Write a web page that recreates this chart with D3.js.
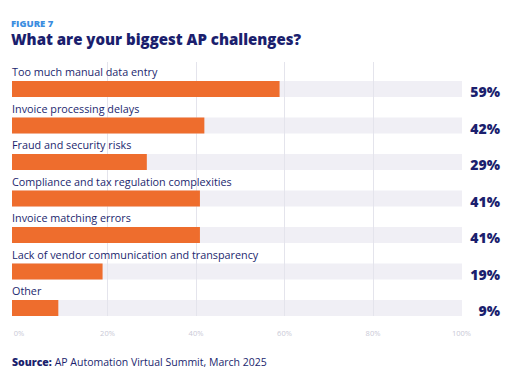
<!DOCTYPE html>
<html>
<head>
<meta charset="utf-8">
<script src="https://cdn.jsdelivr.net/npm/d3@7"></script>
<style>
  html, body { margin: 0; padding: 0; background: #fff; }
  svg { display: block; }
  text { font-family: "Open Sans", "Noto Sans", sans-serif; }
</style>
</head>
<body>
<svg id="chart" width="512" height="385"></svg>
<script>
const categories = [
  "Too much manual data entry",
  "Invoice processing delays",
  "Fraud and security risks",
  "Compliance and tax regulation complexities",
  "Invoice matching errors",
  "Lack of vendor communication and transparency",
  "Other"
];
const values = [59, 42, 29, 41, 41, 19, 9];
const tickValues = [0, 20, 40, 60, 80, 100];
const gridValues = [20, 40, 60, 80];

const navy = "#1b1f6e";
const orange = "#ee6d2d";
const track = "#f0eff5";
const grid = "#e4e4ec";

const svg = d3.select("#chart");

svg.append("text").attr("x", 11).attr("y", 26.5)
  .attr("font-size", 9.5).attr("font-weight", 800).attr("fill", "#3b8de0")
  .text("FIGURE 7");
svg.append("text").attr("x", 11).attr("y", 45)
  .attr("font-size", 15).attr("font-weight", 800).attr("fill", navy)
  .text("What are your biggest AP challenges?");

const x = d3.scaleLinear().domain([0, 100]).range([18.5, 461]);
const y = d3.scaleBand().domain(categories).range([63.5, 319]).paddingInner(0);
const barLeft = 12, barOffset = 17.5, barH = 16;
const data = categories.map((c, i) => ({ c, v: values[i] }));

// tracks
svg.append("g").selectAll("rect").data(data).join("rect")
  .attr("x", barLeft).attr("y", d => y(d.c) + barOffset)
  .attr("width", x(100) + 1 - barLeft).attr("height", barH)
  .attr("fill", track);

// gridlines
svg.append("g").selectAll("line").data(gridValues).join("line")
  .attr("x1", d => Math.round(x(d)) + 0.5).attr("x2", d => Math.round(x(d)) + 0.5)
  .attr("y1", 62).attr("y2", y(categories[categories.length - 1]) + barOffset + barH)
  .attr("stroke", grid).attr("stroke-width", 1);

// bars
svg.append("g").selectAll("rect").data(data).join("rect")
  .attr("x", barLeft).attr("y", d => y(d.c) + barOffset)
  .attr("width", d => x(d.v) - barLeft).attr("height", barH)
  .attr("fill", orange);

// category labels
svg.append("g").selectAll("text").data(data).join("text")
  .attr("x", 12).attr("y", d => y(d.c) + 12.5)
  .attr("font-size", 10.8).attr("fill", navy)
  .text(d => d.c);

// value labels
svg.append("g").selectAll("text").data(data).join("text")
  .attr("x", 500).attr("y", d => y(d.c) + barOffset + barH)
  .attr("text-anchor", "end")
  .attr("font-size", 14).attr("font-weight", 800).attr("fill", navy)
  .text(d => d.v + "%");

// axis
const axis = d3.axisBottom(x).tickValues(tickValues).tickFormat(d => d + "%").tickSize(0);
const ag = svg.append("g").attr("transform", "translate(0,328)").call(axis);
ag.select(".domain").remove();
ag.selectAll("text").attr("font-size", 7.5).attr("fill", "#c9c9d6")
  .attr("font-family", "'Open Sans', sans-serif");

// source
const src = svg.append("text").attr("x", 12).attr("y", 366)
  .attr("font-size", 10.5).attr("fill", navy);
src.append("tspan").attr("font-weight", 800).text("Source:");
src.append("tspan").text(" AP Automation Virtual Summit, March 2025");
</script>
</body>
</html>
